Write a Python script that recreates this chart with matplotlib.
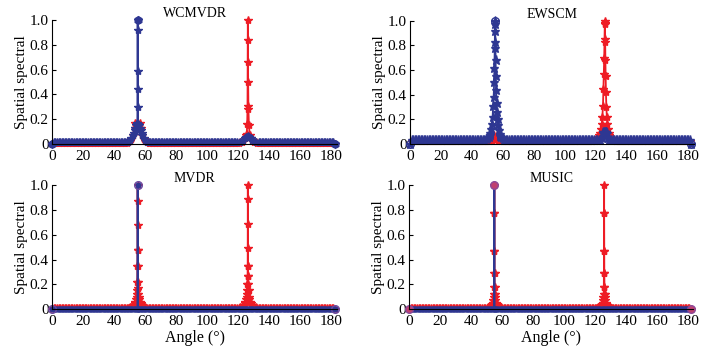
import matplotlib
matplotlib.use("Agg")
import matplotlib.pyplot as plt

plt.rcParams['font.family'] = ['Liberation Serif', 'DejaVu Serif']

# ---------------- data ----------------
titles = ["WCMVDR", "EWSCM", "MVDR", "MUSIC"]
x_ticks = [0, 20, 40, 60, 80, 100, 120, 140, 160, 180]
y_ticks = [0, 0.2, 0.4, 0.6, 0.8, 1.0]
y_tick_labels = ["0", "0.2", "0.4", "0.6", "0.8", "1.0"]

# sampling grid of the flat part of each spectrum (degrees)
floor_angles = list(range(0, 182)) + [182]
end_level = 0.0

# WCMVDR
wc_red_floor = 0.010
wc_red_pk1_ang = [49, 50, 51, 52, 53, 53.5, 54, 54.5, 55, 55.5, 56, 56.5, 57, 58, 59, 60, 61]
wc_red_pk1_val = [0.015, 0.025, 0.04, 0.07, 0.13, 0.17, 0.15, 0.13, 0.12, 0.13, 0.15, 0.17, 0.13, 0.07, 0.04, 0.025, 0.015]
wc_red_pk2_ang = [121, 122, 123, 124, 124.7, 125.3, 125.6, 125.8, 125.9, 126, 126.1, 126.2, 126.4, 126.7, 127.3, 128, 129, 130, 131]
wc_red_pk2_val = [0.015, 0.02, 0.03, 0.045, 0.07, 0.08, 0.16, 0.31, 0.66, 1.0, 0.84, 0.50, 0.28, 0.15, 0.07, 0.045, 0.03, 0.02, 0.015]
wc_blue_floor = 0.012
wc_blue_pk1_ang = [48, 49, 50, 51, 52, 52.5, 53, 53.5, 54, 54.5, 54.8, 54.9, 54.97, 55, 55.05, 55.12, 55.25,
                   55.5, 56, 56.5, 57, 57.5, 58, 59, 60, 61, 62]
wc_blue_pk1_val = [0.015, 0.02, 0.03, 0.045, 0.07, 0.09, 0.11, 0.13, 0.15, 0.16, 0.17, 0.44, 0.92, 1.0, 0.59, 0.30, 0.16,
                   0.16, 0.15, 0.13, 0.11, 0.09, 0.07, 0.045, 0.03, 0.02, 0.015]
wc_blue_pk2_ang = [119, 121, 122, 123, 124, 125, 125.5, 126, 126.5, 127, 128, 129, 130, 131, 133]
wc_blue_pk2_val = [0.015, 0.02, 0.025, 0.035, 0.045, 0.055, 0.06, 0.065, 0.06, 0.055, 0.045, 0.035, 0.025, 0.02, 0.015]

# EWSCM
ew_red_floor = 0.025
ew_red_pk1_ang = [52, 53, 53.5, 54, 54.5, 55, 55.5, 56, 56.5, 57, 58]
ew_red_pk1_val = [0.03, 0.035, 0.05, 0.07, 0.04, 0.03, 0.04, 0.07, 0.05, 0.035, 0.03]
ew_red_pk2_ang = [119, 120, 121, 122, 122.5, 123, 123.5, 124, 124.4, 124.8, 125.1, 125.4, 125.6, 125.8, 125.9, 126,
                  126.1, 126.2, 126.35, 126.5, 126.7, 127, 127.3, 127.7, 128, 128.5, 129, 129.5, 130, 131, 132]
ew_red_pk2_val = [0.03, 0.04, 0.05, 0.06, 0.07, 0.09, 0.12, 0.16, 0.22, 0.31, 0.45, 0.57, 0.70, 0.85, 0.97, 1.0,
                  0.98, 0.83, 0.68, 0.55, 0.42, 0.30, 0.22, 0.16, 0.12, 0.09, 0.07, 0.06, 0.05, 0.04, 0.03]
ew_blue_floor = 0.030
ew_blue_pk1_ang = [48, 49, 50, 51, 51.5, 52, 52.5, 53, 53.4, 53.8, 54.1, 54.4, 54.6, 54.8, 54.9, 55,
                   55.1, 55.2, 55.35, 55.5, 55.7, 56, 56.3, 56.7, 57, 57.5, 58, 58.5, 59, 60, 61]
ew_blue_pk1_val = [0.035, 0.04, 0.05, 0.06, 0.07, 0.09, 0.12, 0.16, 0.22, 0.31, 0.38, 0.50, 0.62, 0.78, 0.92, 1.0,
                   0.97, 0.83, 0.68, 0.55, 0.44, 0.33, 0.26, 0.20, 0.15, 0.11, 0.08, 0.065, 0.055, 0.045, 0.035]
ew_blue_pk2_ang = [123, 124, 124.6, 125, 125.5, 126, 126.5, 127, 127.4, 128, 129]
ew_blue_pk2_val = [0.035, 0.05, 0.09, 0.10, 0.10, 0.10, 0.10, 0.10, 0.09, 0.05, 0.035]

# MVDR
mv_red_floor = 0.012
mv_red_pk1_ang = [50, 51, 52, 53, 53.5, 54, 54.3, 54.5, 54.65, 54.75, 54.85, 54.92, 54.97, 55,
                  55.03, 55.08, 55.15, 55.25, 55.35, 55.5, 55.7, 56, 56.5, 57, 58, 59, 60]
mv_red_pk1_val = [0.015, 0.02, 0.03, 0.045, 0.06, 0.08, 0.10, 0.12, 0.15, 0.22, 0.35, 0.48, 0.68, 1.0,
                  0.87, 0.48, 0.35, 0.22, 0.17, 0.12, 0.10, 0.08, 0.06, 0.045, 0.03, 0.02, 0.015]
mv_red_pk2_ang = [121, 122, 123, 124, 124.5, 125, 125.3, 125.5, 125.65, 125.75, 125.85, 125.92, 125.97, 126,
                  126.03, 126.08, 126.15, 126.25, 126.35, 126.5, 126.7, 127, 127.5, 128, 129, 130, 131]
mv_red_pk2_val = [0.015, 0.02, 0.03, 0.045, 0.06, 0.08, 0.10, 0.12, 0.15, 0.20, 0.27, 0.35, 0.69, 1.0,
                  0.89, 0.49, 0.35, 0.27, 0.20, 0.15, 0.10, 0.08, 0.06, 0.045, 0.03, 0.02, 0.015]
mv_blue_floor = 0.002
mv_blue_pk1_ang = [54.9, 55, 55.1]
mv_blue_pk1_val = [0.002, 1.0, 0.002]

# MUSIC
mu_red_floor = 0.010
mu_red_pk1_ang = [51, 52, 53, 53.5, 54, 54.3, 54.5, 54.7, 54.8, 54.88, 54.94, 54.98, 55,
                  55.02, 55.06, 55.12, 55.2, 55.3, 55.5, 55.7, 56, 56.5, 57, 58, 59]
mu_red_pk1_val = [0.015, 0.02, 0.03, 0.04, 0.05, 0.07, 0.10, 0.12, 0.18, 0.29, 0.47, 0.78, 1.0,
                  0.78, 0.47, 0.29, 0.18, 0.12, 0.10, 0.07, 0.05, 0.04, 0.03, 0.02, 0.015]
mu_red_pk2_ang = [122, 123, 124, 124.5, 125, 125.3, 125.5, 125.7, 125.8, 125.88, 125.94, 125.98, 126,
                  126.02, 126.06, 126.12, 126.2, 126.3, 126.5, 126.7, 127, 127.5, 128, 129, 130]
mu_red_pk2_val = [0.015, 0.02, 0.03, 0.04, 0.05, 0.07, 0.10, 0.12, 0.18, 0.29, 0.47, 0.78, 1.0,
                  0.78, 0.47, 0.29, 0.18, 0.12, 0.10, 0.07, 0.05, 0.04, 0.03, 0.02, 0.015]
mu_blue_floor = 0.002
mu_blue_pk1_ang = [54.9, 55, 55.1]
mu_blue_pk1_val = [0.002, 1.0, 0.002]

RED = '#ee1c25'
BLUE = '#2e3792'


def build(floor, peaks):
    spans = [(min(a), max(a)) for a, _ in peaks]
    pts = []
    for a in floor_angles:
        if any(lo <= a <= hi for lo, hi in spans):
            continue
        pts.append((a, end_level if a in (floor_angles[0], floor_angles[-1]) else floor))
    for a, v in peaks:
        pts += list(zip(a, v))
    pts.sort()
    return [p[0] for p in pts], [p[1] for p in pts]


panels = [
    (build(wc_red_floor, [(wc_red_pk1_ang, wc_red_pk1_val), (wc_red_pk2_ang, wc_red_pk2_val)]),
     build(wc_blue_floor, [(wc_blue_pk1_ang, wc_blue_pk1_val), (wc_blue_pk2_ang, wc_blue_pk2_val)]),
     dict(marker='*', ms=6.0, mfc=BLUE), dict(marker='h', mfc=BLUE, mec=BLUE)),
    (build(ew_red_floor, [(ew_red_pk1_ang, ew_red_pk1_val), (ew_red_pk2_ang, ew_red_pk2_val)]),
     build(ew_blue_floor, [(ew_blue_pk1_ang, ew_blue_pk1_val), (ew_blue_pk2_ang, ew_blue_pk2_val)]),
     dict(marker='*', ms=6.5, mfc=BLUE), dict(marker='o', mfc='none', mec=BLUE)),
    (build(mv_red_floor, [(mv_red_pk1_ang, mv_red_pk1_val), (mv_red_pk2_ang, mv_red_pk2_val)]),
     build(mv_blue_floor, [(mv_blue_pk1_ang, mv_blue_pk1_val)]),
     dict(marker='o', ms=3.5, mfc=BLUE), dict(marker='o', mfc='none', mec='#6a4aa0')),
    (build(mu_red_floor, [(mu_red_pk1_ang, mu_red_pk1_val), (mu_red_pk2_ang, mu_red_pk2_val)]),
     build(mu_blue_floor, [(mu_blue_pk1_ang, mu_blue_pk1_val)]),
     dict(marker='o', ms=3.5, mfc=BLUE), dict(marker='o', mfc='#c04070', mec='#8a4a9a')),
]

positions = [
    [0.0737, 0.5978, 0.401, 0.3464],
    [0.5775, 0.5978, 0.3996, 0.3444],
    [0.0737, 0.1369, 0.401, 0.3455],
    [0.5765, 0.1369, 0.3996, 0.3455],
]

fig = plt.figure(figsize=(7.10, 3.58), dpi=100)

for i, (pos, title, (red, blue, bstyle, endstyle)) in enumerate(zip(positions, titles, panels)):
    ax = fig.add_axes(pos)
    ax.plot(red[0], red[1], color=RED, lw=1.3, marker='*', ms=6.0, mfc=RED, mec=RED,
            clip_on=False, zorder=2)
    bs = dict(bstyle)
    ax.plot(blue[0], blue[1], color=BLUE, lw=1.3, mec=BLUE, clip_on=False, zorder=3, **bs)
    # top / end markers
    top_i = blue[1].index(max(blue[1]))
    ex = [blue[0][0], blue[0][top_i], blue[0][-1]]
    ey = [blue[1][0], blue[1][top_i], blue[1][-1]]
    es = dict(endstyle)
    ax.plot(ex, ey, ls='none', ms=5.5, clip_on=False, zorder=4, **es)

    ax.set_xlim(0, 183.5)
    ax.set_ylim(0, 1.0)
    ax.set_xticks(x_ticks)
    ax.set_yticks(y_ticks)
    ax.set_yticklabels(y_tick_labels)
    for s in ('top', 'right'):
        ax.spines[s].set_visible(False)
    for s in ('left', 'bottom'):
        ax.spines[s].set_linewidth(0.8)
        ax.spines[s].set_zorder(5)
    ax.tick_params(direction='in', length=3, width=0.8, labelsize=11)
    ax.tick_params(axis='x', pad=4)
    ax.tick_params(axis='y', pad=2.5)
    ax.set_ylabel("Spatial spectral", fontsize=11, labelpad=1)
    ax.set_title(title, fontsize=10, pad=1)
    if i >= 2:
        ax.set_xlabel("Angle (°)", fontsize=11.5, labelpad=1.5)

fig.savefig("out.png", dpi=100)
